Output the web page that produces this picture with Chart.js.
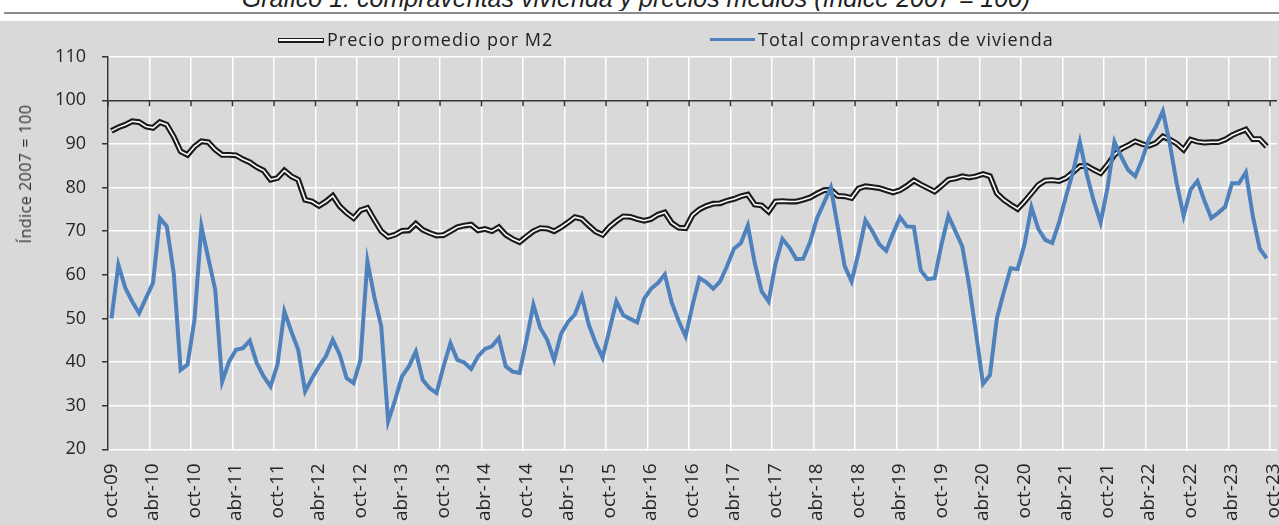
<!DOCTYPE html>
<html>
<head>
<meta charset="utf-8">
<script src="https://cdn.jsdelivr.net/npm/chart.js@4.4.1/dist/chart.umd.min.js"></script>
<style>
html,body{margin:0;padding:0;background:#fff;}
#page{position:relative;width:1279px;height:525px;overflow:hidden;background:#fff;font-family:"Open Sans",sans-serif;}
#title{position:absolute;left:0;top:0;width:1279px;height:11px;overflow:hidden;}
#title span{position:absolute;left:0;width:1272px;text-align:center;top:-16px;font:italic 25px "Liberation Sans",Arial,sans-serif;line-height:29px;color:#222;white-space:nowrap;}
#rule{position:absolute;left:4px;right:0;top:12px;height:2px;background:#8c8c8c;}
#wrap{position:absolute;left:0;top:21px;width:1279px;height:504px;background:#d9d9d9;}
canvas{display:block;}
.legtxt{position:absolute;top:30px;font-size:18px;line-height:18px;letter-spacing:1px;color:#222;white-space:nowrap;}
.sym1{position:absolute;left:278px;top:37.5px;width:46px;height:5px;background:#1a1a1a;}
.sym1 div{position:absolute;left:1px;right:1px;top:1.75px;height:1.5px;background:#fff;}
.sym2{position:absolute;left:710px;top:37.5px;width:45px;height:3.5px;background:#4f81bd;}
#ytitle{position:absolute;left:25px;top:174px;transform:translate(-50%,-50%) rotate(-90deg);font-size:16px;letter-spacing:0.5px;color:#333;white-space:nowrap;}
</style>
</head>
<body>
<div id="page">
  <div id="title"><span>Gráfico 1: compraventas vivienda y precios medios (índice 2007 = 100)</span></div>
  <div id="rule"></div>
  <div id="wrap"><canvas id="c" width="1279" height="504"></canvas></div>
  <div class="sym1"><div></div></div>
  <div class="legtxt" style="left:327px;">Precio promedio por M2</div>
  <div class="sym2"></div>
  <div class="legtxt" style="left:758px;">Total compraventas de vivienda</div>
  <div id="ytitle">Índice 2007 = 100</div>
</div>
<script>
// Categories: monthly, oct-09 .. oct-23
const monthNames = ['ene','feb','mar','abr','may','jun','jul','ago','sep','oct','nov','dic'];
const categories = [];
for (let y = 2009, m = 9; categories.length < 169; ) {
  categories.push(monthNames[m] + '-' + String(y % 100).padStart(2, '0'));
  m++; if (m === 12) { m = 0; y++; }
}

// Índice precio promedio por M2 (2007 = 100)
const precio = [
  93.0,93.8,94.4,95.2,95.0,94.0,93.7,95.0,94.4,91.7,88.3,87.5,
  89.4,90.6,90.4,88.7,87.5,87.5,87.4,86.5,85.8,84.7,83.9,81.8,
  82.2,83.9,82.6,81.8,77.2,76.8,75.8,76.8,78.1,75.7,74.2,73.0,
  74.8,75.3,72.6,70.0,68.7,69.2,70.1,70.2,71.7,70.3,69.6,69.0,
  69.1,70.0,70.9,71.3,71.5,70.2,70.5,70.0,70.9,69.2,68.2,67.5,
  68.8,70.0,70.7,70.6,70.0,70.9,72.0,73.2,72.8,71.3,69.9,69.2,
  71.0,72.3,73.4,73.3,72.8,72.4,72.8,73.8,74.3,71.9,70.8,70.7,
  73.7,75.0,75.8,76.3,76.4,77.0,77.4,78.0,78.4,76.1,75.9,74.5,
  76.8,76.9,76.8,76.8,77.2,77.7,78.6,79.4,79.5,78.1,78.0,77.6,
  79.8,80.3,80.1,79.9,79.4,78.9,79.4,80.4,81.6,80.7,79.9,79.1,
  80.4,81.8,82.1,82.6,82.3,82.6,83.1,82.6,78.7,77.2,76.1,75.1,
  76.8,78.7,80.6,81.6,81.7,81.5,82.2,83.5,84.9,85.0,84.1,83.3,
  85.2,87.5,88.9,89.7,90.6,90.0,89.6,90.2,91.7,91.0,90.1,88.7,
  91.0,90.5,90.3,90.4,90.4,91.0,92.0,92.7,93.3,91.1,91.1,89.4,
  null
];

// Índice total compraventas de vivienda (2007 = 100)
const ventas = [
  50.0,62.3,57.0,53.9,51.2,54.7,58.1,73.0,71.1,60.4,38.2,39.4,
  49.7,71.1,63.8,56.6,35.5,40.1,42.8,43.2,44.9,39.8,36.7,34.4,
  39.4,51.6,47.0,42.8,33.3,36.3,39.0,41.3,45.1,41.7,36.3,35.2,
  40.5,63.1,55.0,48.2,26.4,31.3,36.7,39.0,42.4,35.9,34.0,32.9,
  39.0,44.3,40.5,39.9,38.4,41.3,43.0,43.6,45.5,39.0,37.8,37.5,
  45.1,53.1,47.8,45.1,40.5,46.5,49.2,50.9,55.1,48.6,44.4,41.0,
  47.4,53.9,50.7,49.9,49.1,54.5,56.8,58.1,60.1,53.6,49.4,45.9,
  53.0,59.3,58.3,56.8,58.5,62.0,66.0,67.3,71.3,62.7,56.2,53.9,
  62.5,68.2,66.3,63.6,63.7,67.5,73.0,76.5,80.0,71.0,62.0,58.5,
  65.0,72.5,70.0,67.0,65.5,69.5,73.2,71.1,71.0,61.0,59.0,59.2,
  67.0,73.5,70.0,66.5,57.5,46.5,35.0,37.0,50.0,56.0,61.5,61.3,
  67.0,75.5,70.5,68.0,67.3,72.0,78.0,83.5,90.5,83.0,77.0,72.0,
  80.0,90.5,87.0,84.0,82.6,86.4,91.2,94.0,97.5,90.0,81.0,73.5,
  79.5,81.5,77.0,73.0,74.2,75.6,81.0,81.0,83.5,73.5,66.0,63.8,
  null
];

// Y axis range
const yTicks = {min: 20, max: 110, step: 10};

const axisTicks = {
  id: 'axisTicks',
  beforeDatasetsDraw(chart) {
    const {ctx, scales: {x, y}} = chart;
    const yy = y.getPixelForValue(100);
    const step = x.width / categories.length;
    ctx.save();
    ctx.strokeStyle = '#333';
    ctx.lineWidth = 1.5;
    for (let j = 0; j <= categories.length; j += 6) {
      const xx = x.left + j * step;
      ctx.beginPath(); ctx.moveTo(xx, yy); ctx.lineTo(xx, yy + 6); ctx.stroke();
    }
    ctx.restore();
  }
};

new Chart(document.getElementById('c'), {
  type: 'line',
  data: {
    labels: categories,
    datasets: [
      {label: 'Total compraventas de vivienda', data: ventas, borderColor: '#4f81bd', borderWidth: 4, pointRadius: 0, tension: 0, order: 0},
      {label: 'Precio promedio por M2', data: precio, borderColor: '#ffffff', borderWidth: 1.6, pointRadius: 0, tension: 0, order: 1},
      {label: 'Precio promedio por M2 (borde)', data: precio, borderColor: '#1a1a1a', borderWidth: 5.8, pointRadius: 0, tension: 0, order: 2}
    ]
  },
  options: {
    responsive: false,
    animation: false,
    devicePixelRatio: 1,
    layout: {padding: {top: 35.7, right: 2, left: 0, bottom: 0}},
    plugins: {legend: {display: false}, tooltip: {enabled: false}, title: {display: false}},
    scales: {
      x: {
        offset: true,
        grid: {offset: true, color: c => (c.index % 6 === 0 ? '#ffffff' : 'rgba(0,0,0,0)'), lineWidth: 1.5, drawTicks: false},
        border: {display: false},
        ticks: {
          autoSkip: false, minRotation: 90, maxRotation: 90, padding: 14, color: '#262626',
          font: {family: 'Open Sans', size: 19},
          callback: (v, i) => (i % 6 === 0 ? categories[i] : '')
        },
        afterFit: s => { s.height = 75.7; s.paddingLeft = 0; s.paddingRight = 0; }
      },
      y: {
        min: yTicks.min, max: yTicks.max,
        ticks: {stepSize: yTicks.step, padding: 16, color: '#262626', font: {family: 'Open Sans', size: 18}},
        grid: {
          color: c => (c.tick && c.tick.value === 100 ? '#333333' : '#ffffff'),
          lineWidth: 1.5, tickColor: '#333', tickLength: 6
        },
        border: {color: '#333', width: 1.5},
        afterFit: s => { s.width = 108; }
      }
    }
  },
  plugins: [axisTicks]
});
</script>
</body>
</html>
